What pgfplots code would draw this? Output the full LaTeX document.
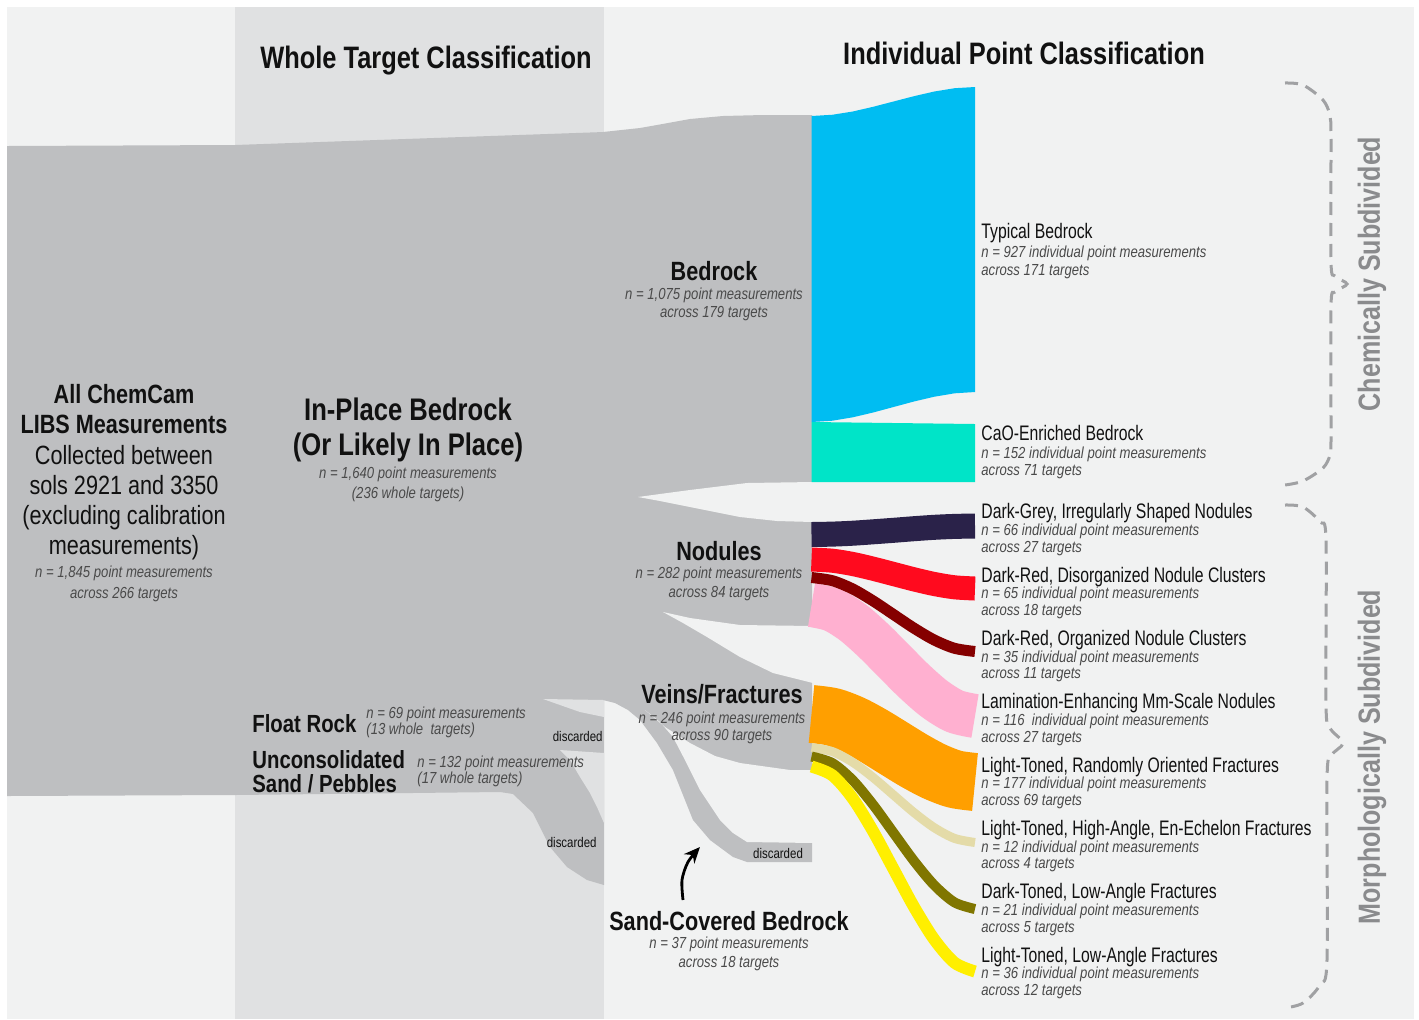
\documentclass[border=0pt]{standalone}
\usepackage{pgfplots}
\pgfplotsset{compat=1.18}
\usepackage{fontspec}
\setmainfont{Liberation Sans}[FakeStretch=0.82]
\newfontfamily\narrowR{Liberation Sans}[FakeStretch=0.75]
\usetikzlibrary{arrows.meta}
\definecolor{panel}{HTML}{F1F2F2}
\definecolor{colbg}{HTML}{E0E1E2}
\definecolor{flow}{HTML}{BEBFC1}
\definecolor{cblue}{HTML}{00BDF2}
\definecolor{ccyan}{HTML}{00E4C8}
\definecolor{cnavy}{HTML}{2A2249}
\definecolor{cred}{HTML}{FF0A1E}
\definecolor{cdred}{HTML}{850000}
\definecolor{cpink}{HTML}{FFB0D0}
\definecolor{corange}{HTML}{FF9F00}
\definecolor{cbeige}{HTML}{E4DBA8}
\definecolor{colive}{HTML}{807600}
\definecolor{cyellow}{HTML}{FFEF00}
\definecolor{brgrey}{HTML}{8A8B8D}
\definecolor{dashgrey}{HTML}{A0A1A3}
\definecolor{itgrey}{HTML}{4A4A4A}
\definecolor{txt}{HTML}{111111}
\newcommand{\ttl}{\fontsize{15.5}{17}\selectfont\bfseries\color{txt}}
\newcommand{\nodeB}{\fontsize{13.2}{15}\selectfont\bfseries\color{txt}}
\newcommand{\nodeR}{\fontsize{13.2}{15}\selectfont\color{txt}}
\newcommand{\inB}{\fontsize{15.6}{17}\selectfont\bfseries\color{txt}}
\newcommand{\frB}{\fontsize{12.4}{14}\selectfont\bfseries\color{txt}}
\newcommand{\rt}{\narrowR\fontsize{10.5}{12}\selectfont\color{txt}}
\newcommand{\smI}{\fontsize{8}{9}\selectfont\itshape\color{itgrey}}
\newcommand{\dsc}{\fontsize{7}{8}\selectfont\color{txt}}
\newcommand{\sideT}{\fontsize{15.3}{17}\selectfont\bfseries\color{brgrey}}
\begin{document}
\begin{tikzpicture}
\begin{axis}[scale only axis, width=709.5pt, height=509.5pt,
  xmin=0, xmax=1419, ymin=0, ymax=1019, y dir=reverse,
  axis lines=none, ticks=none, clip=false]
% backgrounds
\addplot[fill=white, draw=none] coordinates {(0,0)(1419,0)(1419,1019)(0,1019)};
\addplot[fill=panel, draw=none] coordinates {(7,7)(1414,7)(1414,1019)(7,1019)};
\addplot[fill=colbg, draw=none] coordinates {(235,7)(604,7)(604,1019)(235,1019)};
% grey flows, left part
\addplot[fill=flow, draw=none] coordinates {(7,146)(235,145)(604,132)(604,885)(587,880)(567,867)(550,847)(533,813)(513,794)(500,792)(235,795)(7,796)};
\addplot[fill=colbg, draw=none] coordinates {(543,699)(604,700)(604,717)(580,712)(560,705)};
\addplot[fill=colbg, draw=none] coordinates {(560,750)(604,753)(604,823)(597,807)(590,793)(580,777)(570,760)};
% grey flows, right part
\addplot[fill=flow, draw=none] coordinates {(603,132)(640,128)(657,125)(690,119)(723,116)(763,115)(812,115)(812,862)(747,862)(733,857)(710,840)(693,820)(673,770)(657,743)(640,720)(628,710)(615,703)(603,700)};
\addplot[fill=panel, draw=none] coordinates {(638,497)(660,494)(690,490)(747,483)(813,482)(813,522)(777,521)(740,517)(690,507)(660,501)};
\addplot[fill=panel, draw=none] coordinates {(663,612)(690,618)(740,625)(813,626)(813,683)(773,673)(740,657)(707,637)(683,623)};
\addplot[fill=panel, draw=none] coordinates {(645,710)(665,727)(690,743)(715,756)(740,763)(790,770)(813,770)(813,843)(747,842)(733,833)(720,820)(700,790)(686,762)(673,737)(660,722)};
% coloured bands
\addplot[fill=cblue, draw=none] coordinates {(811.5,116)(832.4,114.75)(852.8,111.5)(873.1,106.8)(893.5,101.5)(913.9,96.2)(934.3,91.5)(954.6,88.2)(975,87)(975,392)(954.6,393.3)(934.3,396.7)(913.9,401.5)(893.5,407)(873.1,412.5)(852.8,417.3)(832.4,420.7)(811.5,422)};
\addplot[fill=ccyan, draw=none] coordinates {(811.5,422)(975,424)(975,482)(811.5,482)};
\addplot[cnavy, line width=12.5pt, smooth] coordinates {(811.5,534.5)(832.4,534.1)(852.8,533.2)(873.1,531.8)(893.5,530.3)(913.9,528.7)(934.3,527.3)(954.6,526.4)(975,526)};
\addplot[cred, line width=12pt, smooth] coordinates {(811.5,559.5)(832.4,560.7)(852.8,564)(873.1,568.7)(893.5,574)(913.9,579.3)(934.3,584)(954.6,587.3)(975,588.5)};
\addplot[cpink, line width=22pt, smooth] coordinates {(811.5,605)(832.4,609.8)(852.8,622.3)(873.1,640.1)(893.5,660.5)(913.9,680.9)(934.3,698.7)(954.6,711.2)(975,716)};
\addplot[cdred, line width=5.5pt, smooth] coordinates {(811.5,577.5)(832.4,580.7)(852.8,589)(873.1,600.9)(893.5,614.5)(913.9,628.1)(934.3,640)(954.6,648.3)(975,651.5)};
\addplot[corange, line width=29pt, smooth] coordinates {(811.5,714)(832.4,716.9)(852.8,724.6)(873.1,735.5)(893.5,748)(913.9,760.5)(934.3,771.4)(954.6,779.1)(975,782)};
\addplot[cbeige, line width=4.5pt, smooth] coordinates {(811.5,747.5)(832.4,751.6)(852.8,762.3)(873.1,777.5)(893.5,795)(913.9,812.5)(934.3,827.7)(954.6,838.4)(975,842.5)};
\addplot[colive, line width=5pt, smooth] coordinates {(811.5,756.5)(832.4,763.1)(852.8,780.3)(873.1,804.7)(893.5,832.8)(913.9,860.8)(934.3,885.2)(954.6,902.4)(975,909)};
\addplot[cyellow, line width=6pt, smooth] coordinates {(811.5,766.5)(832.4,775.3)(852.8,798.5)(873.1,831.3)(893.5,869)(913.9,906.7)(934.3,939.5)(954.6,962.7)(975,971.5)};
% braces
\addplot[dashgrey, line width=1.5pt, dash pattern=on 6.5pt off 4pt, smooth] coordinates {(1285,83)(1303,85)(1323,100)(1330,116)(1331,140)(1331,262)(1335,276)(1347,284)(1335,292)(1331,306)(1331,440)(1330,455)(1323,468)(1303,481)(1285,485)};
\addplot[dashgrey, line width=1.5pt, dash pattern=on 6.5pt off 4pt, smooth] coordinates {(1285,505)(1303,507)(1320,522)(1326,540)(1326,705)(1330,728)(1343,743)(1331,756)(1327,780)(1327,960)(1320,985)(1303,1003)(1285,1008)};
% arrow
\addplot[black, line width=1.4pt, smooth, -{Stealth[length=8pt, width=7pt]}] coordinates {(683,900)(682,880)(688,862)(700,847)};
% titles
\node[anchor=base, inner sep=0pt] at (axis cs:426,68) {\ttl Whole Target Classification};
\node[anchor=base, inner sep=0pt] at (axis cs:1024,64) {\ttl Individual Point Classification};
% left block
\node[anchor=base, inner sep=0pt] at (axis cs:124,403) {\nodeB All ChemCam};
\node[anchor=base, inner sep=0pt] at (axis cs:124,433) {\nodeB LIBS Measurements};
\node[anchor=base, inner sep=0pt] at (axis cs:124,464) {\nodeR Collected between};
\node[anchor=base, inner sep=0pt] at (axis cs:124,494) {\nodeR sols 2921 and 3350};
\node[anchor=base, inner sep=0pt] at (axis cs:124,524) {\nodeR (excluding calibration};
\node[anchor=base, inner sep=0pt] at (axis cs:124,554) {\nodeR measurements)};
\node[anchor=base, inner sep=0pt] at (axis cs:124,577) {\smI n = 1,845 point measurements};
\node[anchor=base, inner sep=0pt] at (axis cs:124,598) {\smI across 266 targets};
% in-place
\node[anchor=base, inner sep=0pt] at (axis cs:408,420) {\inB In-Place Bedrock};
\node[anchor=base, inner sep=0pt] at (axis cs:408,455) {\inB (Or Likely In Place)};
\node[anchor=base, inner sep=0pt] at (axis cs:408,478) {\smI n = 1,640 point measurements};
\node[anchor=base, inner sep=0pt] at (axis cs:408,498) {\smI (236 whole targets)};
% float / unconsolidated
\node[anchor=base west, inner sep=0pt] at (axis cs:252,732) {\frB Float Rock};
\node[anchor=base west, inner sep=0pt] at (axis cs:366,718) {\smI n = 69 point measurements};
\node[anchor=base west, inner sep=0pt] at (axis cs:366,734) {\smI (13 whole\ \ targets)};
\node[anchor=base west, inner sep=0pt] at (axis cs:252,768) {\frB Unconsolidated};
\node[anchor=base west, inner sep=0pt] at (axis cs:252,792) {\frB Sand / Pebbles};
\node[anchor=base west, inner sep=0pt] at (axis cs:417,767) {\smI n = 132 point measurements};
\node[anchor=base west, inner sep=0pt] at (axis cs:417,783) {\smI (17 whole targets)};
\node[anchor=base east, inner sep=0pt] at (axis cs:603,741) {\dsc discarded};
\node[anchor=base east, inner sep=0pt] at (axis cs:597,847) {\dsc discarded};
\node[anchor=base, inner sep=0pt] at (axis cs:778,858) {\dsc discarded};
% middle nodes
\node[anchor=base, inner sep=0pt] at (axis cs:714,280) {\nodeB Bedrock};
\node[anchor=base, inner sep=0pt] at (axis cs:714,299) {\smI n = 1,075 point measurements};
\node[anchor=base, inner sep=0pt] at (axis cs:714,317) {\smI across 179 targets};
\node[anchor=base, inner sep=0pt] at (axis cs:719,560) {\nodeB Nodules};
\node[anchor=base, inner sep=0pt] at (axis cs:719,578) {\smI n = 282 point measurements};
\node[anchor=base, inner sep=0pt] at (axis cs:719,597) {\smI across 84 targets};
\node[anchor=base, inner sep=0pt] at (axis cs:722,703) {\nodeB Veins/Fractures};
\node[anchor=base, inner sep=0pt] at (axis cs:722,723) {\smI n = 246 point measurements};
\node[anchor=base, inner sep=0pt] at (axis cs:722,740) {\smI across 90 targets};
\node[anchor=base, inner sep=0pt] at (axis cs:729,930) {\nodeB Sand-Covered Bedrock};
\node[anchor=base, inner sep=0pt] at (axis cs:729,948) {\smI n = 37 point measurements};
\node[anchor=base, inner sep=0pt] at (axis cs:729,967) {\smI across 18 targets};
% right labels
\node[anchor=base west, inner sep=0pt] at (axis cs:981,238) {\rt Typical Bedrock};
\node[anchor=base west, inner sep=0pt] at (axis cs:981,257) {\smI n = 927 individual point measurements};
\node[anchor=base west, inner sep=0pt] at (axis cs:981,275) {\smI across 171 targets};
\node[anchor=base west, inner sep=0pt] at (axis cs:981,440) {\rt CaO-Enriched Bedrock};
\node[anchor=base west, inner sep=0pt] at (axis cs:981,458) {\smI n = 152 individual point measurements};
\node[anchor=base west, inner sep=0pt] at (axis cs:981,475) {\smI across 71 targets};
\node[anchor=base west, inner sep=0pt] at (axis cs:981,518) {\rt Dark-Grey, Irregularly Shaped Nodules};
\node[anchor=base west, inner sep=0pt] at (axis cs:981,535) {\smI n = 66 individual point measurements};
\node[anchor=base west, inner sep=0pt] at (axis cs:981,552) {\smI across 27 targets};
\node[anchor=base west, inner sep=0pt] at (axis cs:981,582) {\rt Dark-Red, Disorganized Nodule Clusters};
\node[anchor=base west, inner sep=0pt] at (axis cs:981,598) {\smI n = 65 individual point measurements};
\node[anchor=base west, inner sep=0pt] at (axis cs:981,615) {\smI across 18 targets};
\node[anchor=base west, inner sep=0pt] at (axis cs:981,645) {\rt Dark-Red, Organized Nodule Clusters};
\node[anchor=base west, inner sep=0pt] at (axis cs:981,662) {\smI n = 35 individual point measurements};
\node[anchor=base west, inner sep=0pt] at (axis cs:981,678) {\smI across 11 targets};
\node[anchor=base west, inner sep=0pt] at (axis cs:981,708) {\rt Lamination-Enhancing Mm-Scale Nodules};
\node[anchor=base west, inner sep=0pt] at (axis cs:981,725) {\smI n = 116\ \ individual point measurements};
\node[anchor=base west, inner sep=0pt] at (axis cs:981,742) {\smI across 27 targets};
\node[anchor=base west, inner sep=0pt] at (axis cs:981,772) {\rt Light-Toned, Randomly Oriented Fractures};
\node[anchor=base west, inner sep=0pt] at (axis cs:981,788) {\smI n = 177 individual point measurements};
\node[anchor=base west, inner sep=0pt] at (axis cs:981,805) {\smI across 69 targets};
\node[anchor=base west, inner sep=0pt] at (axis cs:981,835) {\rt Light-Toned, High-Angle, En-Echelon Fractures};
\node[anchor=base west, inner sep=0pt] at (axis cs:981,852) {\smI n = 12 individual point measurements};
\node[anchor=base west, inner sep=0pt] at (axis cs:981,868) {\smI across 4 targets};
\node[anchor=base west, inner sep=0pt] at (axis cs:981,898) {\rt Dark-Toned, Low-Angle Fractures};
\node[anchor=base west, inner sep=0pt] at (axis cs:981,915) {\smI n = 21 individual point measurements};
\node[anchor=base west, inner sep=0pt] at (axis cs:981,932) {\smI across 5 targets};
\node[anchor=base west, inner sep=0pt] at (axis cs:981,962) {\rt Light-Toned, Low-Angle Fractures};
\node[anchor=base west, inner sep=0pt] at (axis cs:981,978) {\smI n = 36 individual point measurements};
\node[anchor=base west, inner sep=0pt] at (axis cs:981,995) {\smI across 12 targets};
% side labels
\node[rotate=90, inner sep=0pt] at (axis cs:1372,274) {\sideT Chemically Subdivided};
\node[rotate=90, inner sep=0pt] at (axis cs:1372,757) {\sideT Morphologically Subdivided};
\end{axis}
\end{tikzpicture}
\end{document}
